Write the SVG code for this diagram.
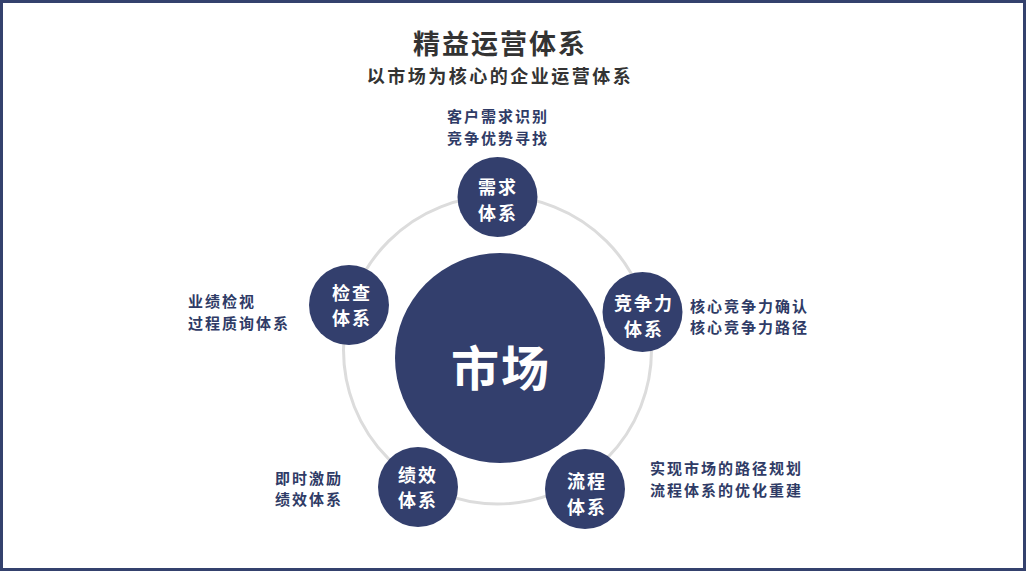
<svg xmlns="http://www.w3.org/2000/svg" width="1026" height="571" viewBox="0 0 1026 571">
<style>
text{font-family:"Noto Sans CJK SC","Noto Sans",sans-serif;font-weight:700;dominant-baseline:central}
.node{fill:#333f6d}
.nt{fill:#ffffff;font-size:18px;letter-spacing:2px;text-anchor:middle}
.lb{fill:#2f3b66;font-size:15px;letter-spacing:2px}
.title{fill:#333333;font-size:27px;letter-spacing:2px;text-anchor:middle}
.sub{fill:#333333;font-size:18px;letter-spacing:2.5px;text-anchor:middle}
</style>
<rect x="1.5" y="1.5" width="1023" height="568" fill="#ffffff" stroke="#34416d" stroke-width="3"/>
<g id="title">
<text class="title" x="500" y="42">精益运营体系</text>
<text class="sub" x="500" y="75">以市场为核心的企业运营体系</text>
</g>
<g id="connectors">
<circle cx="497.5" cy="350" r="154" fill="none" stroke="#dcdcdc" stroke-width="3"/>
</g>
<g id="market">
<circle class="node" cx="500" cy="358" r="105"/>
<text x="501" y="365" fill="#ffffff" font-size="48" letter-spacing="2" text-anchor="middle">市场</text>
</g>
<g id="demand">
<circle class="node" cx="497.5" cy="197" r="40"/>
<text class="nt" x="498" y="186">需求</text>
<text class="nt" x="498" y="212">体系</text>
<text class="lb" x="498" y="115" text-anchor="middle">客户需求识别</text>
<text class="lb" x="498" y="137" text-anchor="middle">竞争优势寻找</text>
</g>
<g id="competitiveness">
<circle class="node" cx="642.5" cy="312" r="40"/>
<text class="nt" x="644" y="302">竞争力</text>
<text class="nt" x="644" y="328">体系</text>
<text class="lb" x="690" y="305">核心竞争力确认</text>
<text class="lb" x="690" y="326">核心竞争力路径</text>
</g>
<g id="process">
<circle class="node" cx="585" cy="489" r="40"/>
<text class="nt" x="587" y="480">流程</text>
<text class="nt" x="587" y="506">体系</text>
<text class="lb" x="650" y="467">实现市场的路径规划</text>
<text class="lb" x="650" y="489">流程体系的优化重建</text>
</g>
<g id="performance">
<circle class="node" cx="418" cy="487" r="40"/>
<text class="nt" x="418" y="474">绩效</text>
<text class="nt" x="418" y="499">体系</text>
<text class="lb" x="275" y="477">即时激励</text>
<text class="lb" x="275" y="498">绩效体系</text>
</g>
<g id="inspection">
<circle class="node" cx="349" cy="305" r="40"/>
<text class="nt" x="352" y="292">检查</text>
<text class="nt" x="352" y="317">体系</text>
<text class="lb" x="188" y="300">业绩检视</text>
<text class="lb" x="188" y="322">过程质询体系</text>
</g>
</svg>
